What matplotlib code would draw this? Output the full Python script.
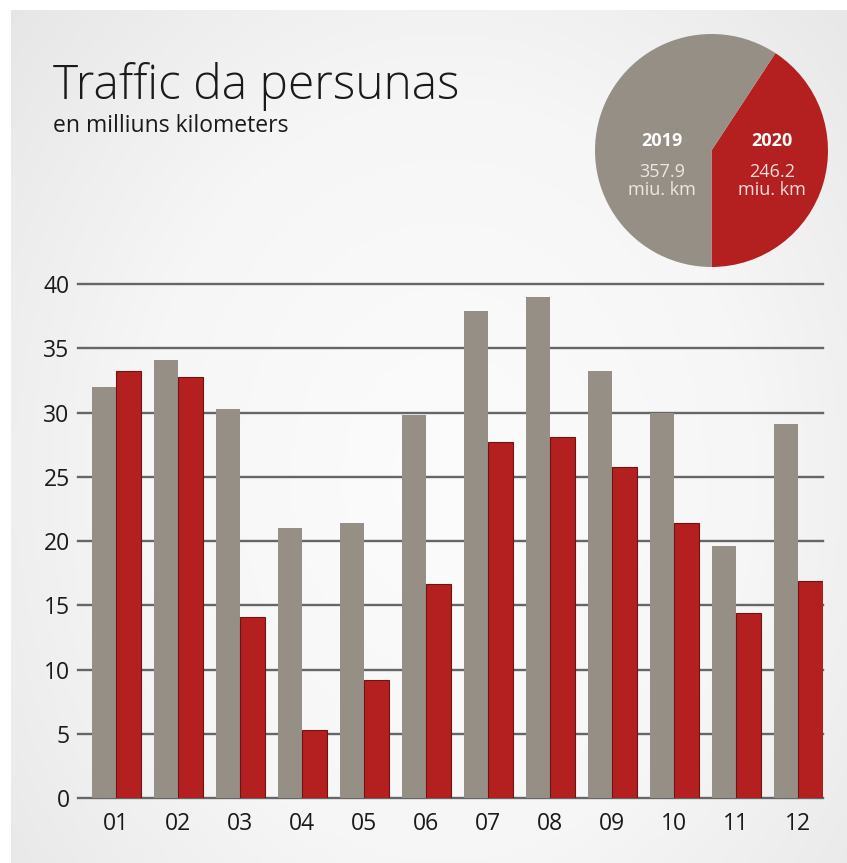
import numpy as np
import matplotlib
matplotlib.use("Agg")
import matplotlib.pyplot as plt
from matplotlib.colors import LinearSegmentedColormap

# ---- data ----
months = ["01", "02", "03", "04", "05", "06", "07", "08", "09", "10", "11", "12"]
values_2019 = [32.0, 34.1, 30.3, 21.0, 21.4, 29.8, 37.9, 39.0, 33.2, 30.0, 19.6, 29.1]
values_2020 = [33.2, 32.8, 14.1, 5.35, 9.2, 16.7, 27.7, 28.1, 25.8, 21.4, 14.45, 16.9]
yticks = [0, 5, 10, 15, 20, 25, 30, 35, 40]
pie_years = ["2020", "2019"]
pie_totals = [246.2, 357.9]
unit_label = "miu. km"
title = "Traffic da persunas"
subtitle = "en milliuns kilometers"

GRAY = "#958f86"
RED = "#b4201f"
RED_EDGE = "#6e1414"
FONT = "Open Sans"

W, H = 847, 863
fig = plt.figure(figsize=(W / 100, H / 100), dpi=100)
fig.patch.set_facecolor("white")

# ---- background vignette ----
bg = fig.add_axes([11 / W, 0, 1 - 11 / W, 1 - 10 / H])
bg.set_axis_off()
yy, xx = np.mgrid[0:1:200j, 0:1:200j]
d = np.sqrt(((xx - 0.52) / 0.62) ** 2 + ((yy - 0.55) / 0.75) ** 2)
shade = np.clip(d, 0, 1.2)
cmap = LinearSegmentedColormap.from_list("bgc", ["#fcfcfc", "#f6f6f6", "#e4e4e4"])
bg.imshow(shade, cmap=cmap, aspect="auto", extent=[0, 1, 0, 1], vmin=0, vmax=1.2)
bg.set_xlim(0, 1)
bg.set_ylim(0, 1)

# ---- bar chart ----
left_px, right_px = 78, 822.7
top_px, bot_px = 284, 798.3
ax = fig.add_axes([left_px / W, 1 - bot_px / H, (right_px - left_px) / W, (bot_px - top_px) / H])
ax.patch.set_alpha(0)
x = np.arange(len(months))
bw = 0.395
ax.set_xlim(-0.616, len(months) - 1 + 0.395)
ax.set_ylim(0, 40)
for yv in yticks:
    ax.axhline(yv, color="#666666", lw=1.7, zorder=1, clip_on=False)
ax.bar(x - bw / 2, values_2019, width=bw, color=GRAY, zorder=2, linewidth=0)
ax.bar(x + bw / 2, values_2020, width=bw, color=RED, edgecolor=RED_EDGE, linewidth=0.8, zorder=3)
ax.set_yticks(yticks)
ax.set_yticklabels([str(v) for v in yticks], fontsize=16.5, family=FONT, color="#1a1a1a")
ax.set_xticks(x)
ax.set_xticklabels(months, fontsize=16.5, family=FONT, color="#1a1a1a")
ax.tick_params(axis="both", length=0)
ax.tick_params(axis="y", pad=6)
ax.tick_params(axis="x", pad=10)
for s in ax.spines.values():
    s.set_visible(False)

# ---- titles ----
fig.text(53 / W, 1 - 99 / H, title, fontsize=34.5, family=FONT, fontweight="light",
         color="#1a1a1a", ha="left", va="baseline")
fig.text(53 / W, 1 - 132 / H, subtitle, fontsize=16.5, family=FONT,
         color="#1a1a1a", ha="left", va="baseline")

# ---- pie ----
cx, cy, r = 711.5, 150.5, 116.5
pax = fig.add_axes([(cx - r) / W, 1 - (cy + r) / H, 2 * r / W, 2 * r / H])
pax.pie(pie_totals, colors=[RED, GRAY], startangle=-90, counterclock=True,
        wedgeprops=dict(linewidth=0))
pax.set_aspect("auto")
pax.set_xlim(-1, 1)
pax.set_ylim(-1, 1)

def px2pie(px, py):
    return ((px - cx) / r, (cy - py) / r)

for yr, tot, lx, vcol in [(pie_years[1], pie_totals[1], 662, "#ece8e2"),
                          (pie_years[0], pie_totals[0], 772, "#f3dede")]:
    tx, ty = px2pie(lx, 141)
    pax.text(tx, ty, yr, fontsize=13, fontweight="bold", family=FONT, color="white",
             ha="center", va="center")
    tx, ty = px2pie(lx, 172)
    pax.text(tx, ty, f"{tot:.1f}", fontsize=13, family=FONT, color=vcol,
             ha="center", va="center")
    tx, ty = px2pie(lx, 190)
    pax.text(tx, ty, unit_label, fontsize=13, family=FONT, color=vcol,
             ha="center", va="center")

fig.savefig("out.png", dpi=100, facecolor=fig.get_facecolor())
